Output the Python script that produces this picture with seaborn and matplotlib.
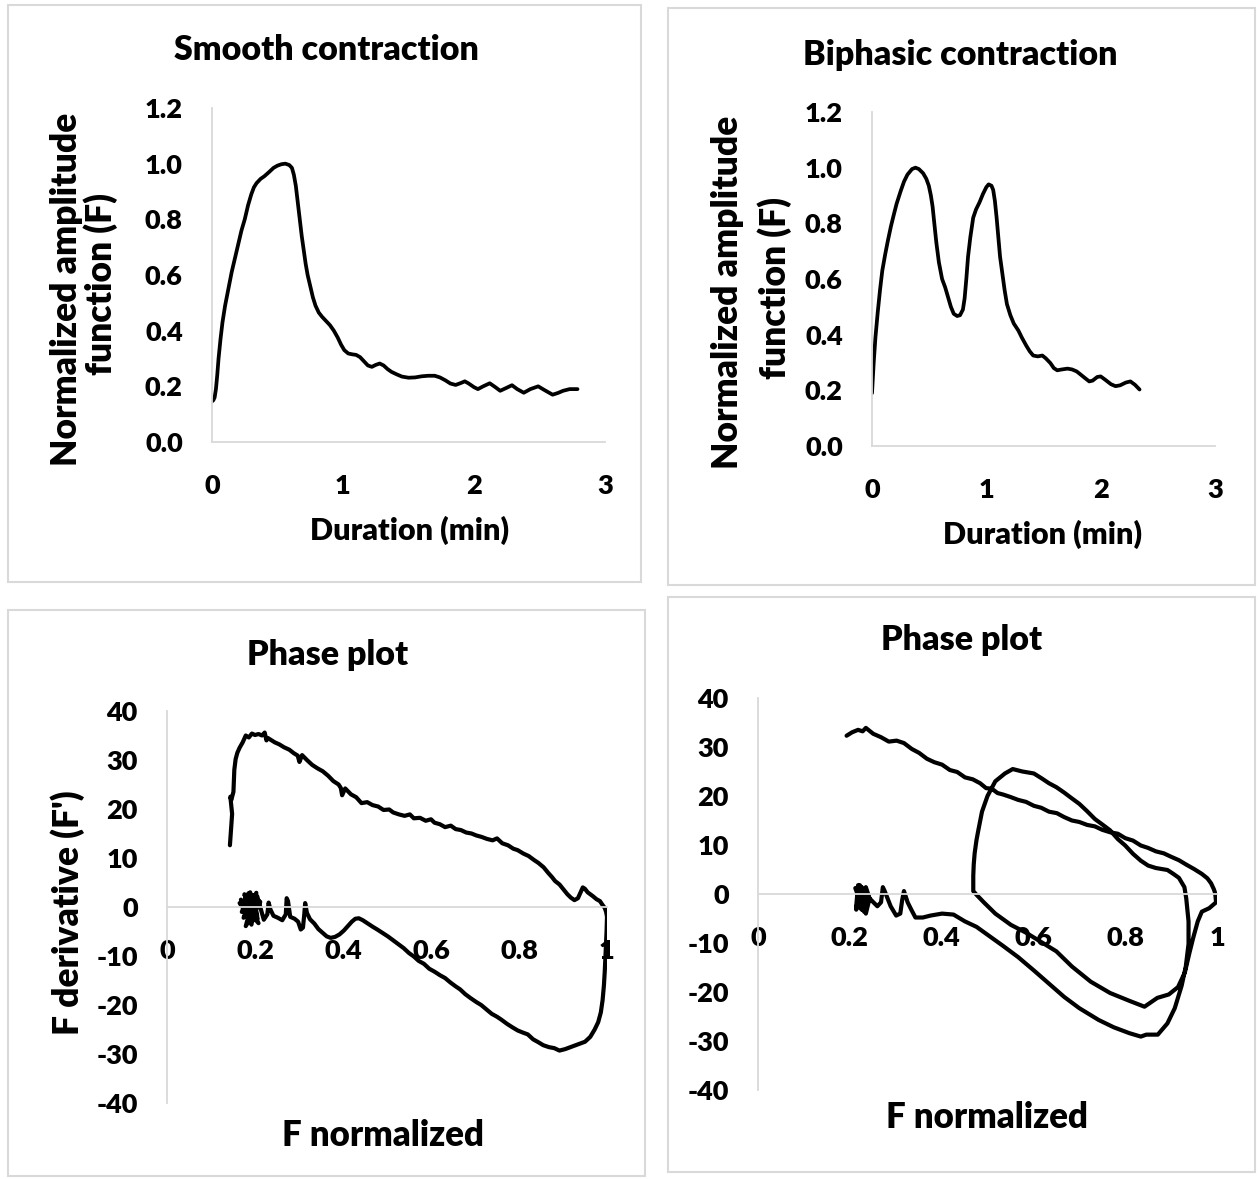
import numpy as np
import matplotlib
matplotlib.use('Agg')
import matplotlib.pyplot as plt
from matplotlib.patches import Rectangle
from matplotlib.ticker import FormatStrFormatter
import seaborn as sns

sns.set_theme(style='white')
plt.rcParams['font.family'] = ['Lato', 'DejaVu Sans']
plt.rcParams['font.weight'] = 'heavy'
plt.rcParams['axes.unicode_minus'] = False

# smooth contraction: duration (min) vs normalized amplitude
smooth_t = [0.0, 0.01, 0.02, 0.03, 0.04, 0.05, 0.065, 0.08, 0.1, 0.125, 0.15, 0.175, 0.2, 0.225, 0.25, 0.275,
            0.3, 0.32, 0.34, 0.37, 0.40, 0.436, 0.47, 0.5, 0.53, 0.56, 0.59, 0.61, 0.625, 0.64, 0.655, 0.67,
            0.685, 0.70, 0.715, 0.73, 0.75, 0.77, 0.79, 0.815, 0.84, 0.87, 0.9, 0.93, 0.96, 0.985, 1.01, 1.04,
            1.07, 1.10, 1.13, 1.16, 1.19, 1.22, 1.25, 1.28, 1.31, 1.34, 1.37, 1.41, 1.45, 1.5, 1.55, 1.6, 1.65,
            1.70, 1.74, 1.78, 1.82, 1.86, 1.9, 1.93, 1.96, 2.0, 2.03, 2.07, 2.12, 2.16, 2.2, 2.25, 2.29, 2.33,
            2.38, 2.43, 2.49, 2.54, 2.60, 2.64, 2.68, 2.73, 2.79]
smooth_f = [0.146, 0.15, 0.16, 0.19, 0.24, 0.30, 0.37, 0.43, 0.49, 0.55, 0.61, 0.66, 0.71, 0.76, 0.80, 0.85,
            0.89, 0.915, 0.93, 0.945, 0.955, 0.97, 0.985, 0.993, 0.998, 1.0, 0.995, 0.985, 0.96, 0.92, 0.86, 0.80,
            0.74, 0.69, 0.64, 0.60, 0.56, 0.52, 0.49, 0.465, 0.45, 0.435, 0.42, 0.40, 0.375, 0.35, 0.33, 0.318,
            0.315, 0.313, 0.305, 0.29, 0.275, 0.27, 0.277, 0.282, 0.275, 0.262, 0.252, 0.243, 0.235, 0.231, 0.232,
            0.236, 0.238, 0.238, 0.232, 0.222, 0.21, 0.205, 0.212, 0.218, 0.21, 0.197, 0.19, 0.2, 0.211, 0.198,
            0.184, 0.195, 0.204, 0.19, 0.177, 0.19, 0.20, 0.186, 0.170, 0.176, 0.184, 0.19, 0.19]

# biphasic contraction
biph_t = [0.0, 0.015, 0.03, 0.05, 0.07, 0.09, 0.116, 0.14, 0.166, 0.19, 0.215, 0.25, 0.28, 0.31, 0.35, 0.38,
          0.41, 0.447, 0.475, 0.497, 0.515, 0.53, 0.545, 0.563, 0.585, 0.613, 0.64, 0.665, 0.69, 0.715, 0.745,
          0.77, 0.795, 0.81, 0.825, 0.84, 0.86, 0.885, 0.91, 0.94, 0.97, 1.0, 1.02, 1.045, 1.06, 1.075, 1.09,
          1.105, 1.12, 1.14, 1.16, 1.18, 1.21, 1.24, 1.28, 1.31, 1.35, 1.38, 1.41, 1.45, 1.49, 1.52, 1.56,
          1.59, 1.62, 1.66, 1.71, 1.75, 1.79, 1.83, 1.86, 1.9, 1.93, 1.97, 2.0, 2.04, 2.09, 2.13, 2.17, 2.22,
          2.26, 2.3, 2.34]
biph_f = [0.19, 0.30, 0.39, 0.48, 0.56, 0.63, 0.69, 0.74, 0.79, 0.83, 0.87, 0.915, 0.95, 0.975, 0.995, 1.0,
          0.995, 0.98, 0.96, 0.935, 0.90, 0.86, 0.80, 0.73, 0.66, 0.60, 0.57, 0.535, 0.50, 0.475, 0.467,
          0.47, 0.49, 0.53, 0.60, 0.68, 0.75, 0.82, 0.85, 0.875, 0.905, 0.93, 0.94, 0.935, 0.92, 0.88, 0.82,
          0.75, 0.68, 0.62, 0.56, 0.51, 0.47, 0.44, 0.415, 0.39, 0.36, 0.34, 0.325, 0.322, 0.325, 0.315, 0.298,
          0.28, 0.272, 0.275, 0.278, 0.275, 0.268, 0.255, 0.245, 0.232, 0.235, 0.248, 0.25, 0.238, 0.222, 0.215,
          0.218, 0.228, 0.232, 0.22, 0.203]

# phase plot of smooth contraction: F vs F'
phase1_f = [0.143, 0.148, 0.144, 0.146, 0.151, 0.153, 0.156, 0.160, 0.165, 0.172, 0.179, 0.186, 0.193, 0.200,
            0.208, 0.216, 0.222, 0.226, 0.229, 0.236, 0.245, 0.255, 0.266, 0.278, 0.288, 0.297, 0.301, 0.307,
            0.318, 0.330, 0.342, 0.354, 0.366, 0.378, 0.390, 0.395, 0.398, 0.405, 0.418, 0.430, 0.442, 0.455,
            0.467, 0.480, 0.492, 0.505, 0.514, 0.527, 0.540, 0.552, 0.561, 0.575, 0.588, 0.600, 0.608, 0.620,
            0.632, 0.645, 0.656, 0.668, 0.680, 0.692, 0.703, 0.715, 0.727, 0.740, 0.750, 0.762, 0.775, 0.787,
            0.797, 0.810, 0.822, 0.834, 0.844, 0.856, 0.866, 0.875, 0.882, 0.892, 0.901, 0.910, 0.918, 0.926,
            0.934, 0.940, 0.945, 0.950, 0.956, 0.962, 0.968, 0.976, 0.984, 0.990, 0.995, 0.998, 1.000,
            0.999, 0.997, 0.995, 0.993, 0.990, 0.986, 0.980, 0.972, 0.962, 0.950, 0.935, 0.920, 0.905, 0.892,
            0.880, 0.868, 0.855, 0.844, 0.832, 0.820, 0.808, 0.797, 0.784, 0.772, 0.760, 0.750, 0.738, 0.726,
            0.714, 0.703, 0.690, 0.678, 0.666, 0.656, 0.644, 0.632, 0.620, 0.608, 0.596, 0.584, 0.572, 0.561,
            0.550, 0.538, 0.526, 0.514, 0.502, 0.490, 0.478, 0.467, 0.455, 0.445, 0.436, 0.428, 0.420, 0.412,
            0.402, 0.392, 0.382, 0.372, 0.363, 0.354, 0.344, 0.335, 0.325, 0.318, 0.314, 0.312, 0.309, 0.304,
            0.298, 0.290, 0.280, 0.275, 0.272, 0.270, 0.262, 0.252, 0.242, 0.235, 0.231, 0.228, 0.220,
            0.205, 0.190, 0.176, 0.195, 0.180, 0.208, 0.172, 0.200, 0.185, 0.175, 0.210, 0.190, 0.178, 0.200,
            0.183, 0.196, 0.205, 0.180, 0.168, 0.192, 0.203, 0.174, 0.186, 0.212, 0.179, 0.197, 0.170, 0.189,
            0.206, 0.182, 0.165, 0.194, 0.201, 0.177, 0.188]
phase1_d = [12.6, 19.0, 22.5, 21.8, 23.5, 28.0, 30.2, 31.5, 32.5, 33.6, 35.0, 34.6, 35.4, 35.1,
            35.3, 35.0, 35.6, 34.0, 34.5, 34.1, 33.6, 33.2, 32.6, 32.1, 31.4, 30.9, 29.6, 31.0,
            30.0, 29.0, 28.3, 27.7, 26.8, 25.7, 25.0, 24.3, 22.8, 24.2, 23.0, 22.4, 21.2, 21.4,
            20.8, 20.5, 19.8, 19.9, 19.3, 18.9, 18.6, 18.9, 18.1, 18.2, 17.6, 17.9, 17.2, 16.9,
            16.3, 16.6, 15.9, 15.7, 15.2, 15.0, 14.6, 14.3, 13.9, 13.6, 14.0, 13.0, 12.6, 11.9,
            11.6, 10.9, 10.4, 9.6, 9.0, 8.1, 7.0, 6.1, 5.3, 4.6, 3.6, 2.6, 1.9, 1.4,
            1.8, 3.0, 4.0, 3.7, 3.0, 2.6, 2.2, 1.6, 1.2, 0.4, -0.2, -1.0, -2.0,
            -5.0, -9.0, -13.0, -16.0, -19.0, -21.5, -23.5, -25.0, -26.5, -27.5, -28.0, -28.5, -29.0, -29.3,
            -28.8, -28.6, -28.2, -27.6, -27.0, -26.0, -25.6, -25.2, -24.5, -23.8, -23.0, -22.4, -21.8, -20.9,
            -20.0, -19.4, -18.6, -17.8, -16.8, -16.2, -15.4, -14.5, -13.9, -13.2, -12.6, -11.6, -11.0, -10.1,
            -9.4, -8.4, -7.6, -6.8, -6.0, -5.3, -4.6, -4.0, -3.3, -2.7, -2.3, -2.4, -3.0, -3.8,
            -4.8, -5.6, -6.1, -6.3, -6.0, -5.3, -4.5, -3.4, -2.5, -1.2, 0.8, -1.5, -4.2, -4.6,
            -3.0, -2.4, -2.0, 1.2, 1.8, -1.5, -2.7, -2.2, -1.8, -0.5, 0.9, -1.5, -2.6,
            2.2, -1.5, 2.6, -2.8, 1.6, -3.3, 0.4, -0.8, 2.8, -1.2, 1.2, -3.0, 2.0, 0.5,
            -2.0, 2.4, -1.8, 0.0, 1.5, -3.6, 2.9, -2.2, -0.4, 1.0, -3.9, 2.1, -1.0, 3.0,
            -2.4, 0.2, 0.8, -2.9, 1.7, -1.3, 0.6]

# phase plot of biphasic contraction
phase2_f = [0.193, 0.205, 0.218, 0.228, 0.235, 0.251, 0.268, 0.285, 0.302, 0.318, 0.335, 0.351, 0.368,
            0.384, 0.401, 0.418, 0.434, 0.451, 0.468, 0.484, 0.497, 0.509, 0.522, 0.534, 0.550, 0.567, 0.584,
            0.601, 0.617, 0.634, 0.651, 0.667, 0.684, 0.700, 0.717, 0.734, 0.750, 0.767, 0.784, 0.800, 0.817,
            0.834, 0.850, 0.867, 0.884, 0.900, 0.917, 0.933, 0.950, 0.967, 0.979, 0.987, 0.993, 0.996, 0.998,
            0.983, 0.967, 0.958, 0.948, 0.940, 0.930, 0.915, 0.895, 0.870, 0.842, 0.809, 0.767, 0.725, 0.684,
            0.650, 0.617, 0.584, 0.551, 0.517, 0.492, 0.476, 0.469,
            0.469, 0.470, 0.472, 0.476, 0.480, 0.488, 0.500, 0.517, 0.538, 0.555, 0.576, 0.601, 0.618, 0.634,
            0.650, 0.667, 0.684, 0.700, 0.717, 0.734, 0.750, 0.767, 0.784, 0.800, 0.817, 0.834, 0.850, 0.867,
            0.880, 0.892, 0.905, 0.917, 0.929, 0.933,
            0.938, 0.938, 0.932, 0.923, 0.908, 0.892, 0.871, 0.846, 0.834, 0.809, 0.775, 0.742, 0.700, 0.667,
            0.634, 0.601, 0.567, 0.534, 0.500, 0.476, 0.451, 0.426, 0.401, 0.376, 0.359, 0.343, 0.334, 0.326,
            0.318, 0.314, 0.310, 0.301, 0.289, 0.276, 0.272, 0.268, 0.260,
            0.243, 0.235, 0.226, 0.218, 0.214, 0.226, 0.235, 0.243, 0.226, 0.214, 0.222, 0.238, 0.219, 0.231,
            0.212, 0.240, 0.224]
phase2_d = [32.3, 33.0, 33.5, 33.2, 33.9, 32.7, 32.0, 31.1, 31.3, 30.8, 29.6, 28.8, 27.6,
            26.9, 26.4, 25.3, 24.9, 23.8, 23.4, 22.6, 21.6, 21.5, 20.6, 20.3, 19.8, 19.2, 18.8,
            18.0, 17.6, 16.8, 16.5, 15.7, 15.0, 14.7, 14.1, 13.8, 13.1, 12.6, 12.3, 11.4, 10.9,
            9.9, 9.4, 8.7, 8.3, 7.6, 6.9, 6.0, 5.1, 4.1, 3.2, 2.2, 1.0, 0.2, -1.7,
            -2.9, -3.6, -5.6, -9.0, -12.0, -16.0, -19.0, -20.5, -21.2, -23.0, -21.8, -20.2, -17.9, -14.8,
            -11.7, -9.8, -7.9, -6.3, -4.0, -1.7, -0.15, 0.6,
            3.7, 6.0, 8.3, 11.0, 13.0, 16.8, 20.0, 23.0, 24.6, 25.5, 25.0, 24.6, 23.6, 22.6,
            21.8, 20.7, 19.5, 18.4, 16.9, 15.3, 14.2, 13.0, 11.2, 9.9, 8.2, 6.8, 5.8, 5.3,
            5.1, 4.9, 4.1, 3.3, 1.4, -0.9,
            -5.6, -10.2, -14.8, -18.7, -23.3, -26.4, -28.7, -28.7, -29.1, -28.4, -27.2, -25.7, -23.3, -21.0,
            -18.3, -15.6, -12.9, -10.6, -8.3, -6.7, -5.6, -4.2, -4.0, -4.4, -4.8, -4.8, -3.2, -1.7,
            0.6, -1.3, -4.0, -4.4, -2.5, 0.6, 1.4, -1.7, -2.5,
            -0.9, 1.4, -3.2, 1.8, -2.5, 0.6, -4.0, -0.9, 1.4, -3.2, 1.8, -2.0, 0.9, -3.6,
            1.2, -1.5, -3.0]

W, H = 1258, 1179
fig = plt.figure(figsize=(W / 100, H / 100), dpi=100)


def px_axes(left, top, right, bottom):
    return fig.add_axes([left / W, 1 - bottom / H, (right - left) / W, (bottom - top) / H])


def px_text(x, y, s, size, rotation=0):
    fig.text(x / W, 1 - y / H, s, ha='center', va='center', fontsize=size, rotation=rotation,
             fontweight='heavy', color='black')


def style_axes(ax, phase=False):
    sns.despine(ax=ax)
    for side in ['left', 'bottom']:
        ax.spines[side].set_color('#d9d9d9')
        ax.spines[side].set_linewidth(1.3)
    if phase:
        ax.spines['bottom'].set_position(('data', 0))
    ax.tick_params(axis='both', length=0, labelsize=19.5, colors='black')
    ax.tick_params(axis='x', pad=23)
    ax.tick_params(axis='y', pad=21)
    ax.set_xlabel('')
    ax.set_ylabel('')
    ax.set_facecolor('white')


# chart borders
for (l, t, r, b) in [(8, 5, 641, 582), (668, 8, 1255, 585), (8, 610, 645, 1176), (668, 597, 1255, 1172)]:
    fig.patches.append(Rectangle((l / W, 1 - b / H), (r - l) / W, (b - t) / H, transform=fig.transFigure,
                                 fill=False, edgecolor='#d9d9d9', linewidth=1.5))

line_kw = dict(color='black', sort=False, estimator=None)

ax1 = px_axes(212, 108, 605, 442)
sns.lineplot(x=smooth_t, y=smooth_f, ax=ax1, linewidth=2.7, **line_kw)
ax1.set_xlim(0, 3)
ax1.set_ylim(0, 1.2)
ax1.set_xticks([0, 1, 2, 3])
ax1.set_yticks(np.arange(0, 1.21, 0.2))
ax1.yaxis.set_major_formatter(FormatStrFormatter('%.1f'))
style_axes(ax1)

ax2 = px_axes(872, 112, 1215, 446)
sns.lineplot(x=biph_t, y=biph_f, ax=ax2, linewidth=2.7, **line_kw)
ax2.set_xlim(0, 3)
ax2.set_ylim(0, 1.2)
ax2.set_xticks([0, 1, 2, 3])
ax2.set_yticks(np.arange(0, 1.21, 0.2))
ax2.yaxis.set_major_formatter(FormatStrFormatter('%.1f'))
style_axes(ax2)

phase_ticks = [0, 0.2, 0.4, 0.6, 0.8, 1]
phase_labels = ['0', '0.2', '0.4', '0.6', '0.8', '1']

ax3 = px_axes(167, 711, 607, 1103)
sns.lineplot(x=phase1_f, y=phase1_d, ax=ax3, linewidth=3.0, **line_kw)
ax3.set_xlim(0, 1)
ax3.set_ylim(-40, 40)
ax3.set_xticks(phase_ticks, phase_labels)
ax3.set_yticks(range(-40, 41, 10))
style_axes(ax3, phase=True)

ax4 = px_axes(758, 698, 1217, 1090)
sns.lineplot(x=phase2_f, y=phase2_d, ax=ax4, linewidth=3.0, **line_kw)
ax4.set_xlim(0, 1)
ax4.set_ylim(-40, 40)
ax4.set_xticks(phase_ticks, phase_labels)
ax4.set_yticks(range(-40, 41, 10))
style_axes(ax4, phase=True)

# titles and axis titles
px_text(326, 50, 'Smooth contraction', 24.5)
px_text(960, 55, 'Biphasic contraction', 24.5)
px_text(328, 655, 'Phase plot', 24.5)
px_text(962, 640, 'Phase plot', 24.5)

px_text(410, 530, 'Duration (min)', 22)
px_text(1043, 534, 'Duration (min)', 22)
px_text(383, 1135, 'F normalized', 25)
px_text(987, 1117, 'F normalized', 25)

px_text(67, 289, 'Normalized amplitude', 25.5, rotation=90)
px_text(101, 284, 'function (F)', 25.5, rotation=90)
px_text(728, 292, 'Normalized amplitude', 25.5, rotation=90)
px_text(775, 288, 'function (F)', 25.5, rotation=90)
px_text(68, 913, "F derivative (F')", 25.5, rotation=90)

plt.savefig('out.png', dpi=100, facecolor='white')
plt.close()
